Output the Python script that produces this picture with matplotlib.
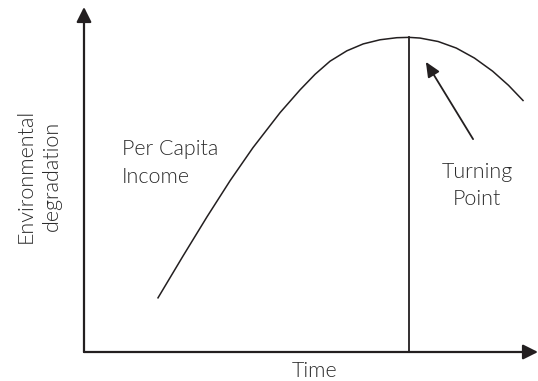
import matplotlib
matplotlib.use('Agg')
import matplotlib.pyplot as plt

# curve (time vs environmental degradation, 0-100 scale)
time_vals = [16.3, 21.8, 27.1, 32.2, 37.2, 43.2, 47.6, 50.9, 54.2, 57.9, 61.5, 65.2,
             68.9, 71.6, 74.0, 78.0, 82.0, 86.0, 90.0, 93.5, 96.7]
degr_vals = [15.7, 27.8, 39.2, 49.7, 59.2, 69.4, 76.0, 80.5, 84.3, 87.3, 89.3, 90.5,
             91.1, 91.2, 91.0, 90.0, 88.1, 85.2, 81.4, 77.3, 72.9]
turn_x = 71.6
turn_y = 91.2
arrow_tail = (85.7, 61.7)
arrow_tip = (75.3, 84.1)

line_col = '#231f20'
text_col = '#2b2b2b'
plt.rcParams['font.family'] = ['Lato', 'DejaVu Sans']
fs = 15.5

fig = plt.figure(figsize=(5.38, 3.81), dpi=100)
ax = fig.add_axes([84/538, 29/381, 454/538, 345/381])
ax.set_xlim(0, 100)
ax.set_ylim(0, 100)
ax.axis('off')

# axes with arrow heads
head = '-|>,head_length=0.9,head_width=0.45'
ax.annotate('', xy=(0, 100), xytext=(0, 0), annotation_clip=False,
            arrowprops=dict(arrowstyle=head, lw=1.6, color=line_col, shrinkA=0, shrinkB=0))
ax.annotate('', xy=(100, 0), xytext=(0, 0), annotation_clip=False,
            arrowprops=dict(arrowstyle=head, lw=1.6, color=line_col, shrinkA=0, shrinkB=0))

ax.plot(time_vals, degr_vals, color=line_col, lw=1.1, clip_on=False,
        solid_joinstyle='round')
ax.plot([turn_x, turn_x], [0, turn_y], color=line_col, lw=1.3)

ax.annotate('', xy=arrow_tip, xytext=arrow_tail,
            arrowprops=dict(arrowstyle='-|>,head_length=0.9,head_width=0.4', lw=1.3,
                            color=line_col, shrinkA=0, shrinkB=0))

txt = dict(fontsize=fs, color=text_col, va='baseline', fontweight=300)
ax.text(86.6, 50.4, 'Turning', ha='center', **txt)
ax.text(86.6, 42.6, 'Point', ha='center', **txt)
ax.text(8.4, 57.1, 'Per Capita', ha='left', **txt)
ax.text(8.4, 49.0, 'Income', ha='left', **txt)
ax.text(50.7, -7.2, 'Time', ha='center', clip_on=False, **txt)
ax.text(-11.5, 51.0, 'Environmental', ha='center', rotation=90,
        rotation_mode='anchor', clip_on=False, **txt)
ax.text(-5.7, 51.0, 'degradation', ha='center', rotation=90,
        rotation_mode='anchor', clip_on=False, **txt)

fig.savefig('out.png', dpi=100)
